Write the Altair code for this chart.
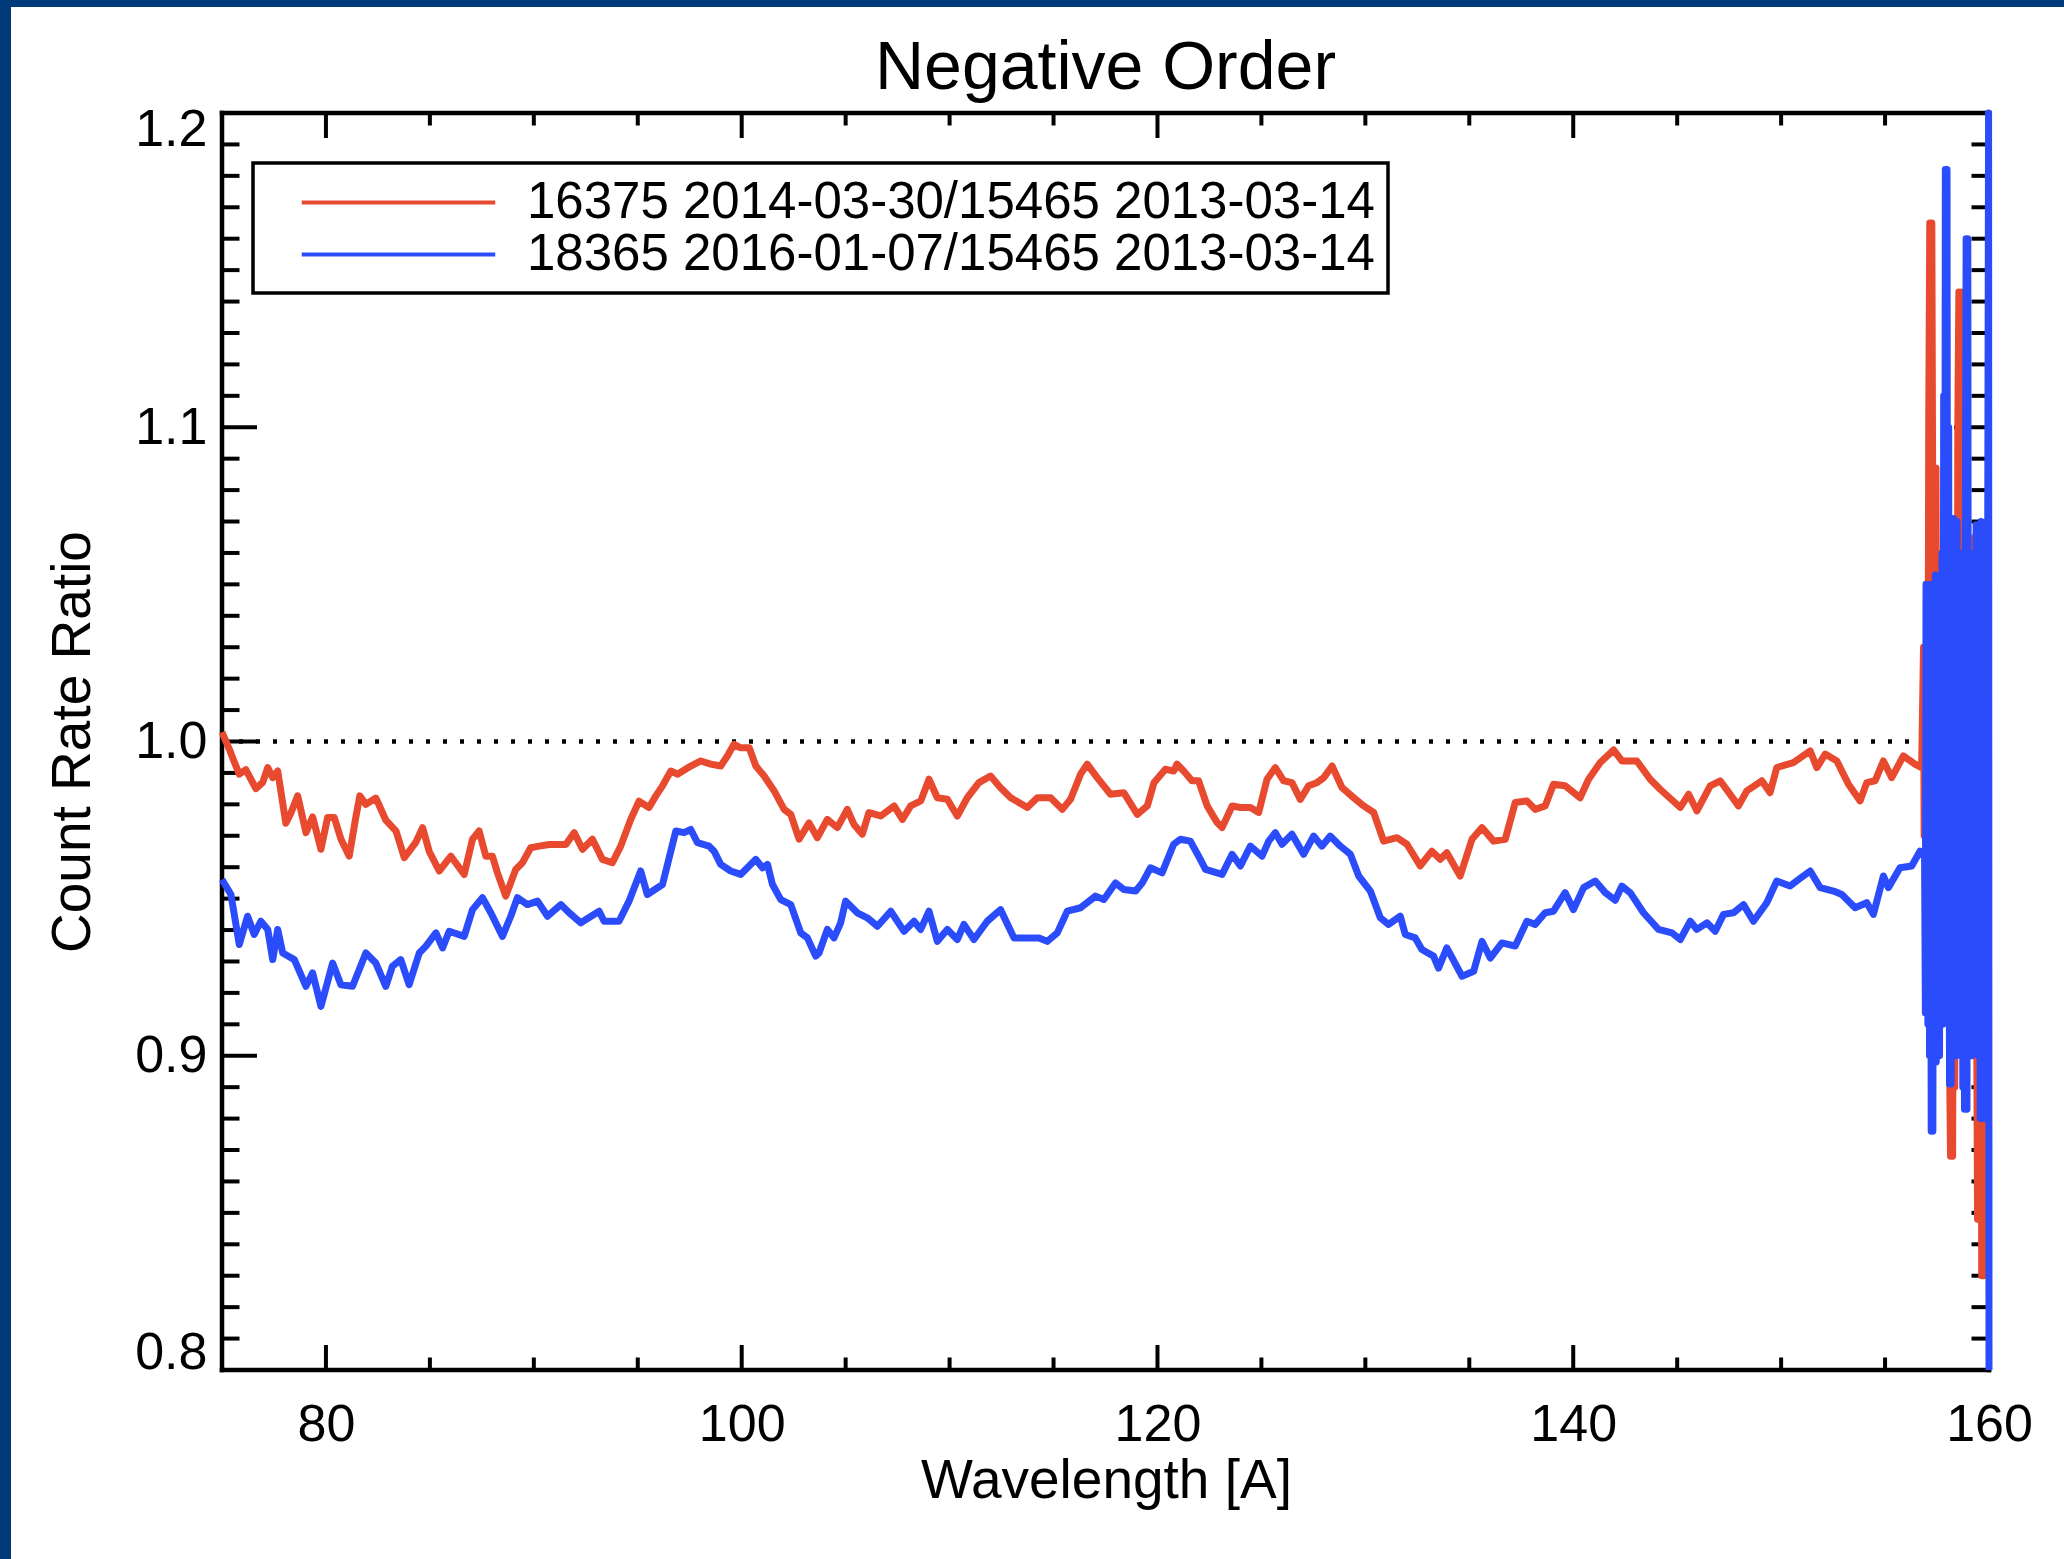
import altair as alt
import pandas as pd

# ---------------- data ----------------
title_text = "Negative Order"
red_label = "16375 2014-03-30/15465 2013-03-14"
blue_label = "18365 2016-01-07/15465 2013-03-14"

red_w = [75.0, 75.35, 75.5, 75.83, 76.15, 76.63, 76.96, 77.2, 77.44, 77.68, 78.07, 78.3, 78.64, 79.04, 79.36,
         79.76, 80.08, 80.4, 80.72, 81.12, 81.44, 81.63, 81.92, 82.4, 82.88, 83.37, 83.77, 84.33, 84.65, 84.97,
         85.45, 86.01, 86.65, 87.05, 87.37, 87.69, 88.01, 88.25, 88.65, 89.13, 89.45, 89.85, 90.26, 90.74, 91.22,
         91.54, 91.94, 92.34, 92.82, 93.3, 93.78, 94.18, 94.66, 95.06, 95.54, 95.87, 96.19, 96.59, 96.91, 97.55,
         98.03, 98.51, 98.99, 99.31, 99.63, 99.95, 100.36, 100.68, 101.08, 101.56, 102.04, 102.36, 102.76, 103.24,
         103.64, 104.12, 104.6, 105.08, 105.4, 105.8, 106.12, 106.69, 107.33, 107.73, 108.13, 108.61, 109.01,
         109.41, 109.89, 110.37, 110.85, 111.41, 111.97, 112.45, 112.94, 113.74, 114.22, 114.86, 115.42, 115.82,
         116.3, 116.62, 117.1, 117.74, 118.38, 119.03, 119.51, 119.83, 120.38, 120.78, 120.94, 121.26, 121.66,
         121.98, 122.39, 122.87, 123.11, 123.59, 123.99, 124.47, 124.87, 125.27, 125.67, 126.07, 126.47, 126.87,
         127.27, 127.67, 128.0, 128.4, 128.88, 129.44, 129.92, 130.4, 130.88, 131.52, 132.0, 132.64, 133.2, 133.6,
         133.92, 134.56, 135.13, 135.61, 136.17, 136.73, 137.21, 137.77, 138.17, 138.65, 139.05, 139.61, 140.33,
         140.74, 141.3, 141.94, 142.34, 143.06, 143.7, 144.18, 145.15, 145.55, 145.95, 146.59, 147.07, 147.95,
         148.35, 149.07, 149.47, 149.79, 150.59, 151.4, 151.72, 152.12, 152.68, 153.24, 153.8, 154.12, 154.52,
         154.92, 155.32, 155.88, 156.44, 156.76,
         156.85, 156.88, 156.92, 156.96, 157.0, 157.05, 157.1, 157.15, 157.2, 157.25, 157.3, 157.35, 157.4, 157.45,
         157.5, 157.55, 157.6, 157.65, 157.7, 157.75, 157.8, 157.85, 157.9, 157.95, 158.0, 158.05, 158.1, 158.15,
         158.2, 158.25, 158.3, 158.35, 158.4, 158.45, 158.5, 158.55, 158.6, 158.65, 158.7, 158.75, 158.8, 158.85,
         158.9, 158.95, 159.0, 159.05, 159.1, 159.15, 159.2, 159.25, 159.3, 159.35, 159.4, 159.45, 159.5, 159.55,
         159.6, 159.65, 159.7, 159.75, 159.8, 159.85, 159.9, 159.95]
red_v = [1.003, 0.9976, 0.995, 0.9896, 0.991, 0.985, 0.987, 0.9917, 0.9885, 0.9906, 0.974, 0.977, 0.9827, 0.971,
         0.976, 0.9657, 0.9758, 0.9758, 0.969, 0.9635, 0.976, 0.9827, 0.98, 0.982, 0.975, 0.9715, 0.963, 0.968,
         0.9726, 0.965, 0.9588, 0.9635, 0.9577, 0.9689, 0.9715, 0.9635, 0.9635, 0.9582, 0.9508, 0.9593, 0.9614,
         0.9662, 0.9667, 0.9672, 0.9672, 0.9672, 0.971, 0.9657, 0.9689, 0.9625, 0.9614, 0.9667, 0.9752, 0.981,
         0.979, 0.9827, 0.9859, 0.9906, 0.9896, 0.9922, 0.9938, 0.9928, 0.9922, 0.9954, 0.9991, 0.998, 0.998,
         0.9922, 0.989, 0.9843, 0.9784, 0.9768, 0.9689, 0.9741, 0.9694, 0.9752, 0.9726, 0.9784, 0.9736, 0.9705,
         0.9774, 0.9763, 0.9795, 0.9752, 0.9795, 0.9811, 0.988, 0.9821, 0.9816, 0.9763, 0.9821, 0.9869, 0.989,
         0.9853, 0.9821, 0.979, 0.9821, 0.9821, 0.9784, 0.9816, 0.9896, 0.9928, 0.9885, 0.9832, 0.9837, 0.9768,
         0.9795, 0.9869, 0.9912, 0.9906, 0.9928, 0.9906, 0.9875, 0.9875, 0.9795, 0.9742, 0.9726, 0.9795, 0.979,
         0.979, 0.9774, 0.988, 0.9917, 0.9875, 0.9869, 0.9816, 0.9859, 0.9869, 0.9885, 0.9922, 0.9853, 0.9821,
         0.9795, 0.9774, 0.9683, 0.9694, 0.9673, 0.9604, 0.9651, 0.9625, 0.9646, 0.9572, 0.9689, 0.9726, 0.9683,
         0.9689, 0.9806, 0.9811, 0.9784, 0.9795, 0.9864, 0.9859, 0.9821, 0.988, 0.9933, 0.9973, 0.9938, 0.9938,
         0.988, 0.9848, 0.979, 0.9832, 0.9779, 0.9859, 0.9875, 0.9795, 0.9843, 0.9875, 0.9837, 0.9917, 0.9933,
         0.997, 0.9917, 0.996, 0.9938, 0.9864, 0.9811, 0.9869, 0.9875, 0.9938, 0.9885, 0.9954, 0.9928, 0.9917,
         1.03, 0.97, 1.02, 0.96, 1.04, 0.95, 1.10, 1.165, 1.00, 1.165, 1.06, 1.087, 1.04, 1.087,
         0.96, 1.03, 0.94, 1.02, 0.95, 1.04, 0.97, 1.05, 0.96, 1.03, 0.93, 1.04, 0.90, 0.868,
         1.00, 0.868, 0.99, 0.89, 1.02, 0.90, 1.10, 1.143, 0.97, 1.143, 1.03, 0.96, 1.06, 0.95,
         1.04, 0.96, 1.03, 0.95, 1.05, 0.94, 1.02, 0.96, 1.065, 1.01, 0.92, 0.848, 0.98, 0.85,
         0.97, 0.83, 0.95, 0.83, 0.96, 0.90, 1.00, 0.92]

blue_w = [75.0, 75.43, 75.83, 76.23, 76.55, 76.87, 77.2, 77.44, 77.68, 77.92, 78.48, 79.04, 79.36, 79.76, 80.32,
          80.72, 81.28, 81.92, 82.4, 82.88, 83.2, 83.6, 84.0, 84.49, 84.81, 85.29, 85.61, 85.93, 86.65, 87.05,
          87.53, 87.93, 88.49, 88.89, 89.21, 89.69, 90.18, 90.66, 91.3, 91.7, 92.26, 93.14, 93.38, 94.1, 94.58,
          95.14, 95.46, 96.19, 96.83, 97.23, 97.55, 97.87, 98.43, 98.67, 98.99, 99.47, 99.95, 100.68, 101.0,
          101.24, 101.48, 101.88, 102.36, 102.84, 103.16, 103.56, 103.72, 104.12, 104.44, 104.76, 105.0, 105.56,
          106.04, 106.53, 107.17, 107.81, 108.29, 108.61, 109.01, 109.41, 109.89, 110.37, 110.69, 111.17, 111.81,
          112.45, 113.1, 113.74, 114.3, 114.7, 115.18, 115.66, 116.3, 117.02, 117.42, 117.98, 118.38, 118.95,
          119.27, 119.66, 120.22, 120.78, 121.1, 121.58, 121.98, 122.31, 123.11, 123.59, 123.99, 124.47, 125.03,
          125.35, 125.67, 125.99, 126.47, 127.03, 127.51, 127.91, 128.31, 128.8, 129.28, 129.68, 130.24, 130.72,
          131.12, 131.68, 131.92, 132.4, 132.72, 133.28, 133.52, 133.92, 134.65, 135.21, 135.61, 136.01, 136.57,
          137.21, 137.77, 138.17, 138.65, 139.05, 139.61, 140.01, 140.5, 141.06, 141.54, 142.02, 142.34, 142.74,
          143.38, 144.1, 144.75, 145.15, 145.63, 145.95, 146.43, 146.83, 147.23, 147.71, 148.19, 148.67, 149.31,
          149.79, 150.43, 150.84, 151.4, 151.88, 152.52, 152.92, 153.56, 154.12, 154.44, 154.92, 155.16, 155.72,
          156.28, 156.68, 156.9,
          156.94, 156.97, 157.0, 157.03, 157.06, 157.1, 157.14, 157.18, 157.22, 157.26, 157.3, 157.34, 157.38,
          157.42, 157.46, 157.5, 157.54, 157.58, 157.62, 157.66, 157.7, 157.74, 157.78, 157.82, 157.86, 157.9,
          157.94, 157.98, 158.02, 158.06, 158.1, 158.14, 158.18, 158.22, 158.26, 158.3, 158.34, 158.38, 158.42,
          158.46, 158.5, 158.54, 158.58, 158.62, 158.66, 158.7, 158.74, 158.78, 158.82, 158.86, 158.9, 158.94,
          158.98, 159.02, 159.06, 159.1, 159.14, 159.18, 159.22, 159.26, 159.3, 159.34, 159.38, 159.42, 159.46,
          159.5, 159.54, 159.58, 159.62, 159.66, 159.7, 159.74, 159.78, 159.82, 159.86, 159.9, 159.94, 159.98,
          160.0]
blue_v = [0.9561, 0.9513, 0.9354, 0.9444, 0.9386, 0.9428, 0.9402, 0.9306, 0.9402, 0.9327, 0.9306, 0.9221, 0.9264,
          0.9157, 0.9295, 0.9226, 0.9221, 0.9327, 0.9295, 0.9221, 0.9285, 0.9306, 0.9226, 0.9327, 0.9349, 0.9391,
          0.9343, 0.9396, 0.938, 0.9465, 0.9503, 0.9455, 0.938, 0.9444, 0.9503, 0.9481, 0.9492, 0.9444, 0.9481,
          0.9455, 0.9423, 0.946, 0.9428, 0.9428, 0.9492, 0.9588, 0.9513, 0.9545, 0.9715, 0.971, 0.972, 0.9678,
          0.9667, 0.9651, 0.9609, 0.9588, 0.9577, 0.9625, 0.9598, 0.9609, 0.9545, 0.9497, 0.9481, 0.9391, 0.9375,
          0.9317, 0.9327, 0.9402, 0.9375, 0.9423, 0.9492, 0.9455, 0.9439, 0.9412, 0.946, 0.9396, 0.9428, 0.9402,
          0.946, 0.9364, 0.9402, 0.937, 0.9418, 0.937, 0.9428, 0.9465, 0.9375, 0.9375, 0.9375, 0.9364, 0.9391,
          0.946, 0.9471, 0.9508, 0.9497, 0.955, 0.9529, 0.9524, 0.955, 0.9598, 0.9582, 0.9673, 0.9689, 0.9683,
          0.9635, 0.9593, 0.9577, 0.9641, 0.9604, 0.9667, 0.9635, 0.9683, 0.971, 0.9673, 0.9705, 0.9641, 0.9699,
          0.9667, 0.9699, 0.9667, 0.9641, 0.9572, 0.9524, 0.9439, 0.9418, 0.9444, 0.9386, 0.9375, 0.9338, 0.9317,
          0.9279, 0.9343, 0.9253, 0.9269, 0.9364, 0.9311, 0.9359, 0.9349, 0.9428, 0.9418, 0.9455, 0.946, 0.9519,
          0.9465, 0.9535, 0.9556, 0.9519, 0.9495, 0.954, 0.9519, 0.9455, 0.9402, 0.9391, 0.937, 0.9428, 0.9402,
          0.9423, 0.9396, 0.945, 0.9455, 0.9481, 0.9428, 0.9487, 0.9556, 0.954, 0.9561, 0.9588, 0.9535, 0.9524,
          0.9513, 0.9471, 0.9487, 0.945, 0.9572, 0.9535, 0.9598, 0.9604, 0.9651, 0.9635,
          0.9136, 1.05, 0.92, 1.04, 0.91, 1.045, 0.90, 1.05, 0.876, 1.04, 0.876, 1.05, 0.90,
          1.053, 0.898, 1.04, 0.91, 1.05, 0.90, 1.04, 0.92, 1.06, 0.91, 1.11, 0.93, 1.182,
          0.95, 1.182, 0.93, 1.10, 0.891, 1.05, 0.891, 1.07, 0.90, 1.071, 0.92, 1.06, 0.90,
          1.07, 0.91, 1.05, 0.92, 1.06, 0.90, 1.05, 0.89, 1.04, 0.883, 1.06, 1.16, 0.883,
          1.16, 0.90, 1.05, 0.91, 1.04, 0.90, 1.06, 0.92, 1.00, 0.91, 1.069, 0.95, 1.069,
          0.90, 1.06, 0.88, 1.07, 0.88, 1.06, 0.90, 1.069, 0.88, 1.05, 0.89, 1.07, 1.2,
          0.8]

x_major = [80, 100, 120, 140, 160]
x_minor = [85, 90, 95, 105, 110, 115, 125, 130, 135, 145, 150, 155]
y_major = [0.8, 0.9, 1.0, 1.1, 1.2]
y_minor = [0.81, 0.82, 0.83, 0.84, 0.85, 0.86, 0.87, 0.88, 0.89,
           0.91, 0.92, 0.93, 0.94, 0.95, 0.96, 0.97, 0.98, 0.99,
           1.01, 1.02, 1.03, 1.04, 1.05, 1.06, 1.07, 1.08, 1.09,
           1.11, 1.12, 1.13, 1.14, 1.15, 1.16, 1.17, 1.18, 1.19]
x_range = [75, 160]
y_range = [0.8, 1.2]
ref_level = [1.0]

# ---------------- styling ----------------
W, H = 1767, 1257
PAD = {"left": 222, "top": 113, "right": 75, "bottom": 189}
FONT = "Liberation Sans"
RED = "#E84A30"
BLUE = "#2B4CFB"
NAVY = "#003A78"

xscale = alt.Scale(domain=x_range, nice=False, zero=False)
yscale = alt.Scale(domain=y_range, nice=False, zero=False)

xaxis = alt.Axis(values=x_major, format="d", ticks=False, domain=False, grid=False,
                 labelFlush=False, labelOverlap=False, labelFont=FONT, labelFontSize=52,
                 labelColor="black", labelPadding=29,
                 title="Wavelength [A]", titleFont=FONT, titleFontSize=55, titleFontWeight="normal",
                 titleColor="black", titleX=884, titleY=127, titleBaseline="alphabetic",
                 titleAlign="center", zindex=1)
yaxis = alt.Axis(values=y_major, format=".1f", ticks=False, domain=False, grid=False,
                 labelFlush=True, labelFlushOffset=9, labelOverlap=False, labelFont=FONT,
                 labelFontSize=52, labelColor="black", labelPadding=15,
                 title="Count Rate Ratio", titleFont=FONT, titleFontSize=55, titleFontWeight="normal",
                 titleColor="black", titleX=-133, titleY=H / 2, titleAngle=270,
                 titleBaseline="alphabetic", titleAlign="center", zindex=1)


def X(field="w"):
    return alt.X(f"{field}:Q", scale=xscale, axis=xaxis)


def Y(field="v"):
    return alt.Y(f"{field}:Q", scale=yscale, axis=yaxis)


# legend symbol: a long horizontal stroke drawn with a small nominal size
color = alt.Color("series:N",
                  scale=alt.Scale(domain=[red_label, blue_label], range=[RED, BLUE]),
                  title=None,
                  legend=alt.Legend(orient="none", legendX=31, legendY=50, direction="vertical",
                                    symbolType="M-4,0L4,0"))

# white page area (slide frame is navy at top/left)
page = alt.Chart(pd.DataFrame({"d": [0]})).mark_rect(color="white").encode(
    x=alt.value(-211), x2=alt.value(W + PAD["right"]),
    y=alt.value(-106), y2=alt.value(H + PAD["bottom"]))

dotted = alt.Chart(pd.DataFrame({"w": [x_range[0]], "w2": [x_range[1]], "v": ref_level})).mark_rule(
    color="black", strokeWidth=4.5, strokeDash=[4, 13]).encode(x=X(), x2="w2:Q", y=Y())

tick_style = dict(color="black", strokeWidth=4)
xmaj = pd.DataFrame({"w": x_major})
xmin = pd.DataFrame({"w": x_minor})
ymaj = pd.DataFrame({"v": y_major})
ymin = pd.DataFrame({"v": y_minor})

ticks = [
    alt.Chart(xmaj).mark_rule(**tick_style).encode(x=X(), y=alt.value(H), y2=alt.value(H - 25)),
    alt.Chart(xmaj).mark_rule(**tick_style).encode(x=X(), y=alt.value(0), y2=alt.value(25)),
    alt.Chart(xmin).mark_rule(**tick_style).encode(x=X(), y=alt.value(H), y2=alt.value(H - 12.5)),
    alt.Chart(xmin).mark_rule(**tick_style).encode(x=X(), y=alt.value(0), y2=alt.value(12.5)),
    alt.Chart(ymaj).mark_rule(**tick_style).encode(y=Y(), x=alt.value(0), x2=alt.value(35)),
    alt.Chart(ymaj).mark_rule(**tick_style).encode(y=Y(), x=alt.value(W), x2=alt.value(W - 35)),
    alt.Chart(ymin).mark_rule(**tick_style).encode(y=Y(), x=alt.value(0), x2=alt.value(17.5)),
    alt.Chart(ymin).mark_rule(**tick_style).encode(y=Y(), x=alt.value(W), x2=alt.value(W - 17.5)),
]

frame_v = alt.Chart(pd.DataFrame({"w": x_range})).mark_rule(
    color="black", strokeWidth=4.5, strokeCap="square").encode(x=X())
frame_h = alt.Chart(pd.DataFrame({"v": y_range})).mark_rule(
    color="black", strokeWidth=4.5, strokeCap="square").encode(y=Y())

red_df = pd.DataFrame({"w": red_w, "v": red_v, "series": red_label})
blue_df = pd.DataFrame({"w": blue_w, "v": blue_v, "series": blue_label})

line_style = dict(strokeWidth=7, strokeJoin="round", strokeCap="butt")
red_line = alt.Chart(red_df).mark_line(**line_style).encode(x=X(), y=Y(), color=color)
blue_line = alt.Chart(blue_df).mark_line(**line_style).encode(x=X(), y=Y(), color=color)

chart = alt.layer(page, dotted, *ticks, frame_v, frame_h, red_line, blue_line).properties(
    width=W, height=H,
    padding=PAD,
    autosize=alt.AutoSizeParams(type="none"),
    background=NAVY,
    title=alt.Title(title_text, font=FONT, fontSize=68, fontWeight="normal", color="black",
                    anchor="middle", frame="group", baseline="alphabetic", offset=-150),
).configure_view(stroke="transparent").configure_legend(
    fillColor="white", strokeColor="black", strokeWidth=3.5, padding=13,
    symbolSize=2340, symbolStrokeWidth=4, symbolOffset=106, labelOffset=102,
    labelFont=FONT, labelFontSize=51, labelColor="black", labelLimit=2000, rowPadding=0,
    zindex=1,
)

chart.save("out.html", embed_options={"renderer": "svg", "actions": False})
